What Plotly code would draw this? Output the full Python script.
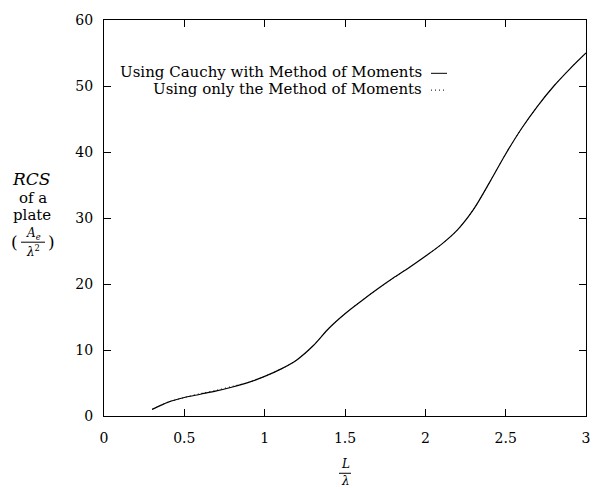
import plotly.graph_objects as go

# Electrical length of the plate, L / lambda
ratio = [0.3, 0.4, 0.5, 0.6, 0.7, 0.8, 0.9, 1.0, 1.1, 1.2, 1.3, 1.4, 1.5,
         1.6, 1.7, 1.8, 1.9, 2.0, 2.1, 2.2, 2.3, 2.4, 2.5, 2.6, 2.7, 2.8,
         2.9, 3.0]

# RCS of the plate (A_e / lambda^2), Cauchy + Method of Moments
rcs_cauchy = [1.0, 2.1, 2.8, 3.3, 3.8, 4.4, 5.1, 6.0, 7.1, 8.5, 10.6, 13.3,
              15.5, 17.4, 19.2, 20.9, 22.5, 24.2, 26.0, 28.2, 31.3, 35.4,
              39.7, 43.6, 47.0, 50.0, 52.6, 55.0]

# RCS of the plate, Method of Moments only
rcs_mom = [1.0, 2.1, 2.8, 3.4, 3.9, 4.5, 5.1, 6.0, 7.1, 8.5, 10.6, 13.3,
           15.5, 17.4, 19.2, 20.9, 22.5, 24.2, 26.0, 28.2, 31.3, 35.4,
           39.7, 43.6, 47.0, 50.0, 52.6, 55.0]

x_ticks = [0, 0.5, 1, 1.5, 2, 2.5, 3]
x_tick_text = ["0", "0.5", "1", "1.5", "2", "2.5", "3"]
y_ticks = [0, 10, 20, 30, 40, 50, 60]

legend_labels = ["Using Cauchy with Method of Moments",
                 "Using only the Method of Moments"]

W, H = 602, 489
L, R, T, B = 104, 16, 15, 73
PW, PH = W - L - R, H - T - B
FONT = "DejaVu Serif"


def px(x):
    return (x - L) / PW


def py(y):
    return (H - B - y) / PH


def label(x, y, text, size, anchor="center"):
    return dict(x=px(x), y=py(y), xref="paper", yref="paper", text=text,
                showarrow=False, xanchor=anchor, yanchor="middle",
                font=dict(family=FONT, size=size, color="black"))


def rule(x0, x1, y, dash="solid"):
    return dict(type="line", xref="paper", yref="paper",
                x0=px(x0), x1=px(x1), y0=py(y), y1=py(y),
                line=dict(color="black", width=1, dash=dash))


fig = go.Figure()
fig.add_trace(go.Scatter(x=ratio, y=rcs_mom, mode="lines",
                         line=dict(color="black", width=1, dash="1px,3px",
                                   shape="spline", smoothing=0.9),
                         showlegend=False))
fig.add_trace(go.Scatter(x=ratio, y=rcs_cauchy, mode="lines",
                         line=dict(color="black", width=1.2,
                                   shape="spline", smoothing=0.9),
                         showlegend=False))

axis_common = dict(showline=True, linecolor="black", linewidth=1,
                   mirror="ticks", ticks="inside", ticklen=7,
                   tickcolor="black", tickwidth=1, showgrid=False,
                   zeroline=False,
                   tickfont=dict(family=FONT, size=14, color="black"))

fig.update_xaxes(range=[0, 3], tickvals=x_ticks, ticktext=x_tick_text,
                 ticklabelstandoff=9, **axis_common)
fig.update_yaxes(range=[0, 60], tickvals=y_ticks, ticklabelstandoff=7,
                 **axis_common)

annotations = []
shapes = []

# legend text with its line samples drawn after it
for i, (text, dash) in enumerate(zip(legend_labels, ["solid", "1px,3px"])):
    yy = 68 + 17 * i
    annotations.append(label(424, yy, text, 15, anchor="right"))
    shapes.append(rule(431, 447, yy + 1, dash))

# y-axis title
annotations += [
    label(31, 176, "<i>RCS</i>", 17),
    label(33, 195, "of a", 15),
    label(32, 212, "plate", 15),
    label(14, 240, "(", 17),
    label(51, 240, ")", 17),
    label(33, 232, "<i>A<sub>e</sub></i>", 12),
    label(33, 249, "<i>λ</i><sup>2</sup>", 12),
]
shapes.append(rule(21, 45, 240))

# x-axis title: L over lambda
annotations += [
    label(345, 465, "<i>L</i>", 12),
    label(345, 482, "<i>λ</i>", 12),
]
shapes.append(rule(339, 351, 474))

fig.update_layout(width=W, height=H,
                  margin=dict(l=L, r=R, t=T, b=B, pad=0),
                  paper_bgcolor="white", plot_bgcolor="white",
                  annotations=annotations, shapes=shapes,
                  font=dict(family=FONT, color="black"))

fig.write_html("out.html")
